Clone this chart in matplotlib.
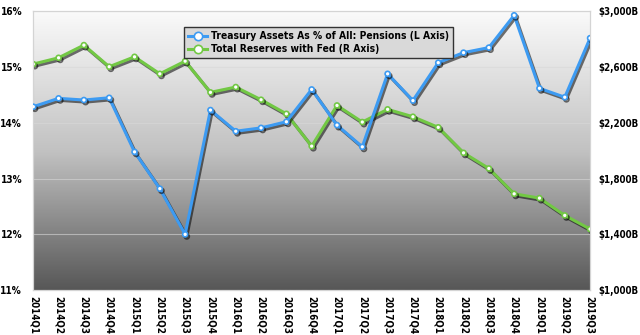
import matplotlib
matplotlib.use("Agg")
import matplotlib.pyplot as plt
import matplotlib.patheffects as pe
import numpy as np

plt.rcParams['font.family'] = ['DejaVu Sans']
plt.rcParams['font.stretch'] = 'condensed'
plt.rcParams['font.weight'] = 'bold'

quarters = ["2014Q1", "2014Q2", "2014Q3", "2014Q4",
            "2015Q1", "2015Q2", "2015Q3", "2015Q4",
            "2016Q1", "2016Q2", "2016Q3", "2016Q4",
            "2017Q1", "2017Q2", "2017Q3", "2017Q4",
            "2018Q1", "2018Q2", "2018Q3", "2018Q4",
            "2019Q1", "2019Q2", "2019Q3"]

# treasury share of pension assets, percent
treasury_pct = [14.29, 14.44, 14.41, 14.45, 13.48, 12.82, 12.00, 14.23,
                13.85, 13.91, 14.02, 14.60, 13.96, 13.57, 14.88, 14.40,
                15.08, 15.26, 15.35, 15.93, 14.62, 14.46, 15.52]

# total reserves held at the Fed, $ billions
reserves = [2622, 2667, 2758, 2603, 2674, 2552, 2643, 2419,
            2457, 2366, 2265, 2033, 2325, 2206, 2297, 2244,
            2168, 1985, 1873, 1691, 1660, 1536, 1438]

left_ticks = [11, 12, 13, 14, 15, 16]
right_ticks = [1000, 1400, 1800, 2200, 2600, 3000]

blue = '#3d9bf2'
green = '#72c844'

fig = plt.figure(figsize=(6.4, 3.35), dpi=100)
ax = fig.add_axes([0.052, 0.134, 0.870, 0.832])
ax2 = ax.twinx()

# right axis sits underneath so the blue line and legend stay on top
ax.set_zorder(ax2.get_zorder() + 1)
ax.patch.set_visible(False)

# grey gradient background
grad = np.linspace(0, 1, 256).reshape(-1, 1)
cmap = matplotlib.colors.LinearSegmentedColormap.from_list('bg', ['#fafafa', '#c2c2c2', '#575757'])
ax2.imshow(grad, extent=[0, 1, 0, 1], transform=ax2.transAxes, cmap=cmap,
           aspect='auto', zorder=0, origin='upper')

x = np.arange(len(quarters))

shadow = [pe.SimpleLineShadow(offset=(1.2, -1.5), shadow_color='black', alpha=0.55),
          pe.Normal()]

ln2, = ax2.plot(x, reserves, color=green, lw=2.2, marker='o', ms=3.6,
                mfc='white', mec=green, mew=1.2, zorder=3, path_effects=shadow,
                label='Total Reserves with Fed (R Axis)')
ln1, = ax.plot(x, treasury_pct, color=blue, lw=2.2, marker='o', ms=3.6,
               mfc='white', mec=blue, mew=1.2, zorder=3, path_effects=shadow,
               label='Treasury Assets As % of All: Pensions (L Axis)')

ax.set_xlim(0, len(quarters) - 1)
ax.set_ylim(11, 16)
ax2.set_ylim(1000, 3000)

ax.set_yticks(left_ticks)
ax.set_yticklabels([f"{t}%" for t in left_ticks])
ax2.set_yticks(right_ticks)
ax2.set_yticklabels([f"${t:,}B" for t in right_ticks])
ax.set_xticks(x)
ax.set_xticklabels(quarters, rotation=-90)

ax2.grid(axis='y', color='#d8d8d8', lw=0.8, alpha=0.6, zorder=1)
ax2.set_axisbelow(False)

ax.tick_params(axis='y', length=0, pad=8, labelsize=7.2)
ax2.tick_params(axis='y', length=0, pad=6, labelsize=7)
ax.tick_params(axis='x', length=0, pad=4, labelsize=7)
for a in (ax, ax2):
    for s in a.spines.values():
        s.set_color('#d4d4d4')
        s.set_linewidth(0.8)

leg = ax.legend(handles=[ln1, ln2], loc='upper left', bbox_to_anchor=(0.262, 0.962),
                fontsize=7.4, frameon=True, fancybox=False, borderpad=0.4,
                labelspacing=0.3, handlelength=1.8, handletextpad=0.4)
leg.get_frame().set_facecolor('#d9d9d9')
leg.get_frame().set_edgecolor('#333333')
leg.get_frame().set_alpha(1)
leg.get_frame().set_linewidth(1.0)
for h in leg.legend_handles:
    h.set_path_effects([])
    h.set_markersize(6)

fig.savefig('out.png', dpi=100)
